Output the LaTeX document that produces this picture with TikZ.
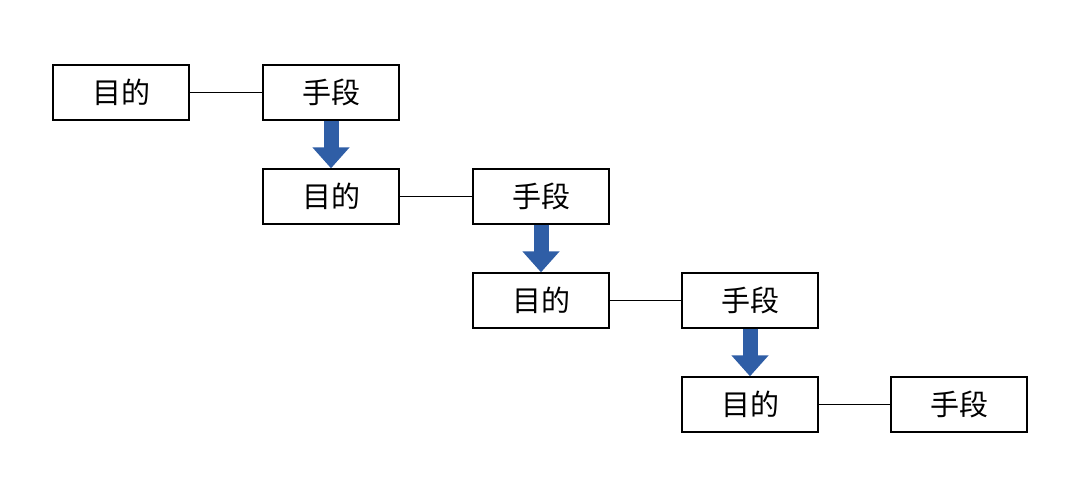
\documentclass[tikz,border=0pt]{standalone}
\usepackage{fontspec}
\newfontfamily\cjk{Noto Sans CJK SC}
\usetikzlibrary{arrows.meta}
\definecolor{arrowblue}{HTML}{2F5EA6}
\tikzset{
  box/.style={draw, thick, minimum width=2.72cm, minimum height=1.1cm, inner sep=0pt, font=\cjk\fontsize{16.5}{19}\selectfont},
  bigarrow/.style={draw=arrowblue, line width=0.3cm, -{Triangle[width=0.72cm,length=0.42cm]}}
}
\begin{document}
\begin{tikzpicture}
        \useasboundingbox (0cm, 0cm) rectangle (21.56cm, -9.64cm);

        \node (e1) [box] at (2.42cm, -1.85cm) {目的};
        \node (m1) [box] at (6.62cm, -1.85cm) {手段};
        \node (e2) [box] at (6.62cm, -3.93cm) {目的};
        \node (m2) [box] at (10.82cm, -3.93cm) {手段};
        \node (e3) [box] at (10.82cm, -6.01cm) {目的};
        \node (m3) [box] at (15.00cm, -6.01cm) {手段};
        \node (e4) [box] at (15.00cm, -8.09cm) {目的};
        \node (m4) [box] at (19.18cm, -8.09cm) {手段};

        \draw (e1) -- (m1);
        \draw (e2) -- (m2);
        \draw (e3) -- (m3);
        \draw (e4) -- (m4);

        \draw [bigarrow] (m1.south) -- (e2.north);
        \draw [bigarrow] (m2.south) -- (e3.north);
        \draw [bigarrow] (m3.south) -- (e4.north);
\end{tikzpicture}
\end{document}
